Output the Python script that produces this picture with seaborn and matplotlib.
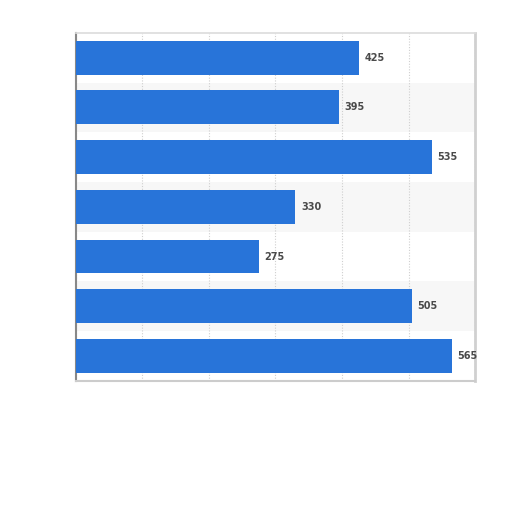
import matplotlib
matplotlib.use("Agg")
import matplotlib.pyplot as plt
import seaborn as sns
import pandas as pd

categories = ["Cat 1", "Cat 2", "Cat 3", "Cat 4", "Cat 5", "Cat 6", "Cat 7"]
values = [425, 395, 535, 330, 275, 505, 565]
x_ticks = [0, 100, 200, 300, 400, 500, 600]

df = pd.DataFrame({"category": categories, "value": values})

sns.set_theme(style="white")
plt.rcParams["font.family"] = ["DejaVu Sans"]

fig = plt.figure(figsize=(5.12, 5.12), dpi=100)
ax = fig.add_axes([0.148, 0.256, 0.78, 0.68])

# alternating row bands
for i in range(len(categories)):
    if i % 2 == 1:
        ax.axhspan(i - 0.5, i + 0.5, color="#f7f7f7", zorder=0, lw=0)

sns.barplot(data=df, y="category", x="value", orient="h", color="#2874D9",
            saturation=1, width=0.68, ax=ax, zorder=3, linewidth=0,
            edgecolor="none")

ax.set_xlim(0, 600)
ax.set_xticks(x_ticks)
ax.xaxis.grid(True, color="#cfcfcf", linestyle=(0, (1, 1.5)), lw=0.8)
ax.set_axisbelow(True)
for gl in ax.get_xgridlines():
    gl.set_zorder(1)
ax.tick_params(left=False, bottom=False, labelleft=False, labelbottom=False)
ax.set_xlabel("")
ax.set_ylabel("")

for c in ax.containers:
    ax.bar_label(c, labels=[str(v) for v in values], padding=4,
                 fontsize=7, fontweight="bold", color="#4a4a4a")

for side in ["left", "right", "top", "bottom"]:
    ax.spines[side].set_visible(True)
ax.spines["left"].set_color("#888888")
ax.spines["left"].set_linewidth(1.5)
ax.spines["right"].set_color("#d0d0d0")
ax.spines["right"].set_linewidth(2)
ax.spines["top"].set_color("#dddddd")
ax.spines["bottom"].set_color("#cccccc")
ax.spines["bottom"].set_linewidth(1.5)

fig.savefig("out.png", dpi=100)
